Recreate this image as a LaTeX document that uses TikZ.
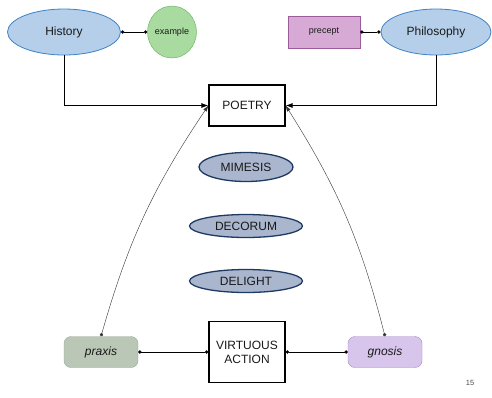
\documentclass[tikz,border=0pt]{standalone}
\usepackage{fontspec}
\setmainfont{Liberation Sans}
\usetikzlibrary{shapes.geometric,arrows.meta}
\definecolor{topblue}{HTML}{B5CFEA}
\definecolor{topblueline}{HTML}{3F82C8}
\definecolor{exgreen}{HTML}{A9DAA0}
\definecolor{exgreenline}{HTML}{5FB356}
\definecolor{prpink}{HTML}{D7AAD5}
\definecolor{prpinkline}{HTML}{9C5C9A}
\definecolor{midblue}{HTML}{AAB6CD}
\definecolor{midblueline}{HTML}{1F3A62}
\definecolor{praxgreen}{HTML}{BAC6B6}
\definecolor{praxgreenline}{HTML}{9AA896}
\definecolor{gnoslilac}{HTML}{D8C5EC}
\definecolor{gnoslilacline}{HTML}{A486C6}
\tikzset{
    every node/.style={font=\fontsize{12}{14}\selectfont, text=black!90},
    subject/.style={ellipse, draw=topblueline, fill=topblue, thick, minimum width=113pt, minimum height=46pt, inner sep=0pt},
    virtue/.style={ellipse, draw=midblueline, fill=midblue, line width=1.3pt, minimum width=113pt, minimum height=23pt, inner sep=0pt},
    mainbox/.style={rectangle, draw=black, very thick, minimum width=76pt, align=center, inner sep=0pt},
    knowbox/.style={rectangle, rounded corners=7pt, minimum width=74pt, minimum height=31pt, inner sep=0pt, font=\fontsize{12}{14}\selectfont\itshape},
    dotlink/.style={{Circle[length=3.4pt]}-{Circle[length=3.4pt]}, thin},
    arrowlink/.style={-{Latex[length=7pt,width=5pt]}, thick},
    curvelink/.style={{Circle[length=3.4pt]}-{Latex[length=6pt,width=4pt]}, black!80, thin}
}
\newcommand{\virtue}[4]{
    \node[virtue, minimum width=#3pt, minimum height=#4pt] (#1) at (246,#2) {#1};
}
\begin{document}
\begin{tikzpicture}[x=1pt, y=-1pt]
    \useasboundingbox (0,0) rectangle (492,397);
    % top row
    \node[subject] (history) at (64,32) {History};
    \node[ellipse, draw=exgreenline, fill=exgreen, minimum width=49pt, minimum height=52pt, inner sep=0pt, font=\fontsize{9}{10}\selectfont] (example) at (172,32) {example};
    \node[rectangle, draw=prpinkline, fill=prpink, minimum width=72pt, minimum height=32pt, inner sep=0pt, font=\fontsize{9}{10}\selectfont] (precept) at (324,32) {precept};
    \node[subject, minimum width=110pt] (philosophy) at (436,32) {Philosophy};
    \node[mainbox, minimum height=41pt] (poetry) at (247,105.5) {POETRY};
    % middle
    \virtue{MIMESIS}{167}{94}{29}
    \virtue{DECORUM}{226}{113}{23}
    \virtue{DELIGHT}{281}{113}{23}
    % bottom row
    \node[knowbox, draw=praxgreenline, fill=praxgreen] (praxis) at (101,352) {praxis};
    \node[mainbox, minimum height=61pt] (action) at (247,352) {VIRTUOUS\\ACTION};
    \node[knowbox, draw=gnoslilacline, fill=gnoslilac] (gnosis) at (385,352) {gnosis};
    \node[font=\fontsize{7.5}{9}\selectfont, text=black!70] (pagenum) at (470,383) {15};
    % links
    \draw[dotlink] (history.east) -- (example.west);
    \draw[dotlink] (precept.east) -- (philosophy.west);
    \draw[dotlink] (praxis.east) -- (action.west);
    \draw[dotlink] (action.east) -- (gnosis.west);
    \draw[arrowlink] (history.south) |- (poetry.west);
    \draw[arrowlink] (philosophy.south) |- (poetry.east);
    \draw[curvelink] (praxis.north) to[bend left=9] (poetry.west);
    \draw[curvelink] (gnosis.north) to[bend right=9] (poetry.east);
\end{tikzpicture}
\end{document}
